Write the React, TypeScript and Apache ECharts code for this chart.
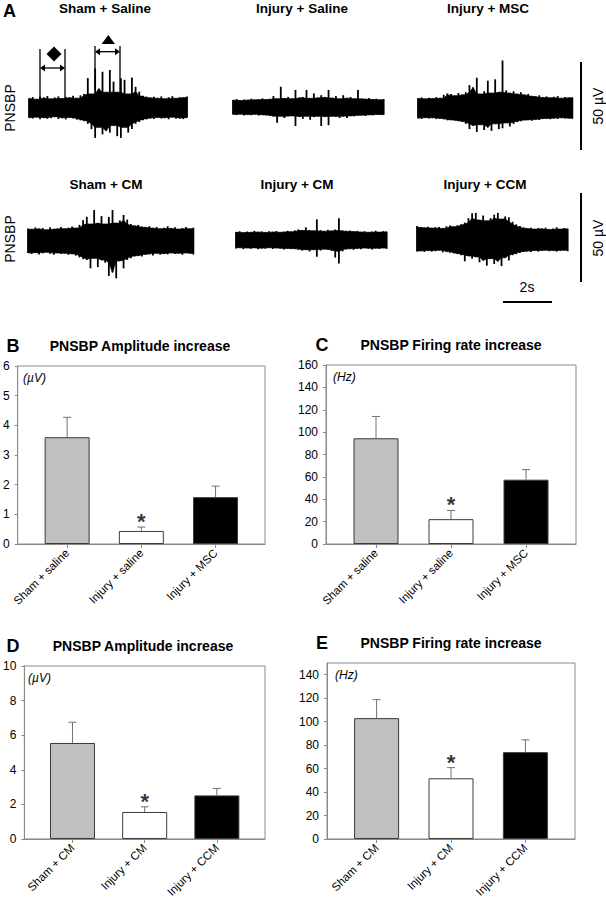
import React, { useEffect, useRef } from 'react';
import * as echarts from 'echarts';

const FONT = '"Liberation Sans", Arial, sans-serif';

// ---------- Panel A: recording traces (envelopes in µV, one value every 0.15 s) ----------
const traceStep = 0.15;
const traceTitles = ['Sham + Saline', 'Injury + Saline', 'Injury + MSC', 'Sham + CM', 'Injury + CM', 'Injury + CCM'];

const shamSalineUpper = [5.5, 6.2, 5.0, 6.5, 5.8, 6.8, 5.2, 6.0, 6.6, 5.4, 6.3, 5.9, 6.9, 5.6, 7.2, 8.0,
  17, 8, 22.5, 11, 20.6, 9, 21.6, 15, 9, 16.9, 16, 8, 17.4, 12, 9.3, 7,
  6.5, 5.8, 6.4, 5.6, 6.6, 5.3, 6.1, 6.7, 5.5, 6.2, 5.9, 6.5];
const shamSalineLower = [5.6, 6.0, 5.2, 6.4, 5.5, 6.1, 5.8, 5.0, 6.3, 5.7, 6.5, 5.4, 6.0, 6.6, 7.0, 7.5,
  9, 12, 17, 11, 15, 13, 14, 10, 16, 17, 11, 14, 12, 9, 8, 7,
  6.5, 5.8, 6.2, 5.4, 6.0, 5.6, 6.4, 5.2, 6.1, 5.8, 6.3, 5.5];

const injurySalineUpper = [4.2, 4.8, 4.0, 4.6, 4.3, 5.0, 4.4, 4.7, 5.2, 4.5,
  5.0, 6.5, 5.0, 11.8, 5.2, 6.0, 5.0, 10.0, 5.5, 6.0,
  10.0, 5.2, 8.0, 5.5, 7.0, 5.8, 10.0, 5.4, 6.5, 5.0,
  7.0, 5.4, 6.0, 5.0, 10.0, 5.2, 4.8, 5.4, 4.6, 5.0, 4.4, 4.8];
const injurySalineLower = [4.0, 4.3, 3.8, 4.5, 4.1, 4.4, 3.9, 4.6, 4.2, 4.4,
  4.8, 5.2, 8.6, 5.0, 6.0, 5.0, 4.8, 10.5, 5.2, 6.5,
  5.0, 7.0, 5.5, 5.0, 10.5, 5.2, 10.0, 5.0, 5.4, 6.0,
  5.0, 6.0, 4.8, 5.0, 4.6, 4.4, 4.8, 4.2, 4.5, 4.0, 4.3, 4.1];

const injuryMscUpper = [5.5, 6.0, 5.2, 5.8, 5.4, 6.2, 5.6, 7.5, 8.3, 8.0,
  7.0, 8.5, 7.5, 9.0, 13.0, 11.7, 17.2, 8.0, 9.5, 15.5,
  8.5, 16.3, 9.0, 27.0, 10.0, 8.5, 9.5, 8.0, 9.0, 7.5,
  8.0, 7.0, 6.5, 7.2, 6.0, 6.6, 5.8, 6.4, 6.8, 5.6, 6.2, 5.8, 6.0];
const injuryMscLower = [5.8, 6.2, 5.5, 6.0, 5.6, 6.3, 5.9, 6.5, 7.0, 6.8,
  7.2, 7.5, 8.0, 9.0, 12.0, 10.0, 13.6, 9.5, 12.5, 11.0,
  13.0, 9.0, 12.0, 11.5, 8.5, 10.5, 9.0, 8.0, 7.5, 7.0,
  6.8, 7.2, 6.5, 6.8, 6.2, 6.0, 6.4, 5.8, 6.2, 5.6, 6.0, 5.8, 6.1];

const shamCmUpper = [7.0, 6.5, 7.5, 6.8, 7.2, 6.2, 7.6, 6.6, 7.0, 7.8,
  6.8, 7.4, 8.0, 7.2, 9.0, 11.7, 13.6, 9.5, 17.4, 10.0,
  14.0, 9.5, 13.5, 17.4, 10.0, 11.5, 14.6, 12.0, 9.5, 8.5,
  9.0, 8.0, 7.6, 8.2, 7.2, 7.8, 6.8, 7.4, 8.2, 7.0,
  7.6, 6.6, 7.2, 7.8, 6.8, 7.4];
const shamCmLower = [7.0, 7.5, 6.8, 7.8, 7.2, 6.6, 7.4, 8.0, 7.0, 7.6,
  7.2, 8.0, 7.5, 8.5, 9.5, 10.5, 11.0, 15.7, 10.0, 15.0,
  11.0, 12.5, 20.0, 18.0, 21.4, 11.5, 15.7, 11.0, 10.0, 9.0,
  8.5, 9.0, 8.0, 7.6, 8.4, 7.2, 8.0, 7.4, 7.8, 7.0,
  7.6, 7.2, 8.0, 7.0, 7.4, 7.8];

const injuryCmUpper = [4.5, 5.0, 4.2, 4.8, 4.4, 5.2, 4.6, 4.9, 4.3, 5.0,
  4.6, 5.1, 4.4, 4.8, 5.2, 4.7, 5.5, 6.0, 5.4, 7.2,
  5.6, 5.2, 11.7, 5.6, 5.0, 5.8, 5.2, 6.0, 12.3, 5.5,
  5.0, 5.4, 4.8, 5.2, 4.6, 5.0, 4.4, 4.9, 5.3, 4.5, 5.0, 4.7];
const injuryCmLower = [4.8, 4.4, 5.2, 4.6, 5.0, 4.5, 5.3, 4.7, 5.0, 4.4,
  5.1, 4.6, 5.0, 5.4, 4.8, 5.2, 5.0, 5.6, 6.0, 5.5,
  6.5, 5.5, 9.5, 6.0, 5.2, 5.6, 6.2, 10.0, 13.3, 6.5,
  5.4, 5.0, 5.6, 4.8, 5.2, 4.6, 5.0, 5.4, 4.7, 5.1, 4.6, 5.0];

const injuryCcmUpper = [7.5, 7.0, 6.6, 7.2, 6.4, 6.8, 7.0, 6.2, 7.4, 7.8,
  7.2, 8.0, 8.6, 9.5, 12.0, 14.8, 15.0, 11.0, 13.5, 10.5,
  12.0, 14.0, 15.0, 11.5, 13.0, 12.5, 10.0, 8.5, 7.5, 6.8,
  6.2, 6.6, 5.8, 6.4, 6.0, 6.6, 5.6, 6.2, 6.8, 5.8, 6.4, 6.0];
const injuryCcmLower = [7.0, 6.6, 7.2, 6.4, 7.0, 6.8, 6.2, 7.4, 7.0, 7.6,
  8.0, 8.4, 9.0, 12.5, 9.5, 11.0, 10.0, 13.0, 12.0, 15.0,
  11.0, 14.0, 12.5, 15.2, 10.5, 12.0, 9.0, 8.5, 7.8, 7.2,
  6.8, 7.2, 6.4, 7.0, 6.6, 6.2, 6.8, 6.4, 7.0, 6.6, 6.2, 6.8];

const traceUpper = [shamSalineUpper, injurySalineUpper, injuryMscUpper, shamCmUpper, injuryCmUpper, injuryCcmUpper];
const traceLower = [shamSalineLower, injurySalineLower, injuryMscLower, shamCmLower, injuryCmLower, injuryCcmLower];

// ---------- Panels B–E: bar charts ----------
const groupsSaline = ['Sham + saline', 'Injury + saline', 'Injury + MSC'];
const groupsCM = ['Sham + CM', 'Injury + CM', 'Injury + CCM'];

const ampSalineMean = [3.6, 0.44, 1.58];
const ampSalineSem = [0.67, 0.13, 0.37];
const rateSalineMean = [94.5, 22.2, 57.5];
const rateSalineSem = [19.5, 7.8, 9.0];
const ampCmMean = [5.55, 1.56, 2.52];
const ampCmSem = [1.2, 0.3, 0.4];
const rateCmMean = [103, 51.7, 74];
const rateCmSem = [15.8, 9.1, 10.5];
const significantGroup = [2, 2, 2, 2]; // "*" over Injury group (1-based position)

const ampTicksSaline = [0, 1, 2, 3, 4, 5, 6];
const rateTicksSaline = [0, 20, 40, 60, 80, 100, 120, 140, 160];
const ampTicksCm = [0, 2, 4, 6, 8, 10];
const rateTicksCm = [0, 20, 40, 60, 80, 100, 120, 140];

const barColors = ['#c0c0c0', '#ffffff', '#000000'];

// ---------- layout (pixels) ----------
const PX_PER_S = 24.5;
const PX_PER_UV = 1.76;
const traceLayout = [
  { left: 29, cy: 108, tx: 105, ty: 8 },
  { left: 233, cy: 107.5, tx: 302, ty: 8 },
  { left: 418, cy: 108, tx: 488, ty: 8 },
  { left: 28, cy: 240.7, tx: 106, ty: 184 },
  { left: 236, cy: 240, tx: 297, ty: 184 },
  { left: 417, cy: 239.3, tx: 485, ty: 184 },
];

const panels = [
  { letter: 'B', title: 'PNSBP Amplitude increase', unit: '(µV)', names: groupsSaline, mean: ampSalineMean, sem: ampSalineSem, ticks: ampTicksSaline, max: 6,
    left: 15, top: 366, width: 250, height: 178, titleX: 140, letterX: 13, unitX: 23 },
  { letter: 'C', title: 'PNSBP Firing rate increase', unit: '(Hz)', names: groupsSaline, mean: rateSalineMean, sem: rateSalineSem, ticks: rateTicksSaline, max: 160,
    left: 326, top: 365, width: 250, height: 179, titleX: 451, letterX: 322, unitX: 333 },
  { letter: 'D', title: 'PNSBP Amplitude increase', unit: '(µV)', names: groupsCM, mean: ampCmMean, sem: ampCmSem, ticks: ampTicksCm, max: 10,
    left: 20, top: 666, width: 245, height: 176, titleX: 143, letterX: 13, unitX: 28 },
  { letter: 'E', title: 'PNSBP Firing rate increase', unit: '(Hz)', names: groupsCM, mean: rateCmMean, sem: rateCmSem, ticks: rateTicksCm, max: 150,
    left: 327, top: 663, width: 248, height: 177, titleX: 451, letterX: 322, unitX: 335 },
];

function text(t: string, x: number, y: number, font: string, rot = 0, align = 'center') {
  return {
    type: 'text', x, y, rotation: rot, z: 100,
    style: { text: t, font, fill: '#000', align, textAlign: align, verticalAlign: 'middle', textVerticalAlign: 'middle' },
  };
}
function seg(x1: number, y1: number, x2: number, y2: number, w = 1.3, color = '#000') {
  return { type: 'line', z: 100, shape: { x1, y1, x2, y2 }, style: { stroke: color, lineWidth: w } };
}
function poly(points: number[][]) {
  return { type: 'polygon', z: 100, shape: { points }, style: { fill: '#000' } };
}
function doubleArrow(x1: number, x2: number, y: number) {
  return [
    seg(x1 + 2, y, x2 - 2, y, 1.3),
    poly([[x1, y], [x1 + 5, y - 3.5], [x1 + 5, y + 3.5]]),
    poly([[x2, y], [x2 - 5, y - 3.5], [x2 - 5, y + 3.5]]),
  ];
}
// solid body of the band: local minimum of each envelope, so single spikes stay thin
const localMin = (arr: number[]) => arr.map((v, k) => Math.min(v, arr[k - 1] ?? v, arr[k + 1] ?? v));

function buildOption() {
  const grid: any[] = [];
  const xAxis: any[] = [];
  const yAxis: any[] = [];
  const series: any[] = [];
  const graphic: any[] = [];

  // traces
  traceUpper.forEach((up, i) => {
    const lo = traceLower[i];
    const L = traceLayout[i];
    const n = up.length;
    const dur = (n - 1) * traceStep;
    const halfUV = 50 / PX_PER_UV;
    grid.push({ left: L.left, top: L.cy - 50, width: dur * PX_PER_S, height: 100, show: false });
    xAxis.push({ gridIndex: grid.length - 1, type: 'value', min: 0, max: dur, show: false });
    yAxis.push({ gridIndex: grid.length - 1, type: 'value', min: -halfUV, max: halfUV, show: false });
    const gi = grid.length - 1;
    const common = {
      type: 'line', xAxisIndex: gi, yAxisIndex: gi, symbol: 'none', silent: true,
      lineStyle: { color: '#000', width: 0.7 }, areaStyle: { color: '#000', opacity: 1 },
    };
    series.push({ ...common, data: localMin(up).map((v, k) => [k * traceStep, v]) });
    series.push({ ...common, data: localMin(lo).map((v, k) => [k * traceStep, -v]) });
    series.push({
      type: 'line', xAxisIndex: gi, yAxisIndex: gi, symbol: 'none', silent: true,
      lineStyle: { color: '#000', width: 4 }, data: [[0, 0], [dur, 0]],
    });
    // each sample as a thin vertical stroke from its lower to upper excursion
    series.push({
      type: 'custom', xAxisIndex: gi, yAxisIndex: gi, silent: true,
      data: up.map((v, k) => [k * traceStep, v, -lo[k]]),
      encode: { x: 0, y: [1, 2] },
      renderItem: (_p: any, api: any) => {
        const a = api.coord([api.value(0), api.value(1)]);
        const b = api.coord([api.value(0), api.value(2)]);
        return { type: 'rect', shape: { x: a[0] - 0.9, y: a[1], width: 1.8, height: b[1] - a[1] }, style: { fill: '#000' } };
      },
    });
    graphic.push(text(traceTitles[i], L.tx, L.ty, `bold 13.5px ${FONT}`));
  });

  // panel A decorations
  graphic.push(text('A', 9.5, 11, `bold 18px ${FONT}`));
  graphic.push(text('PNSBP', 10, 108, `14px ${FONT}`, Math.PI / 2));
  graphic.push(text('PNSBP', 10, 239, `14px ${FONT}`, Math.PI / 2));
  graphic.push(seg(581, 62, 581, 150, 2));
  graphic.push(seg(581, 193, 581, 282, 2));
  graphic.push(text('50 µV', 598, 106, `14px ${FONT}`, Math.PI / 2));
  graphic.push(text('50 µV', 598, 238, `14px ${FONT}`, Math.PI / 2));
  graphic.push(seg(503, 302, 552, 302, 2));
  graphic.push(text('2s', 527, 287, `14px ${FONT}`));
  // annotation: diamond interval
  graphic.push(seg(40, 49, 40, 99, 1.3));
  graphic.push(seg(65, 49, 65, 99, 1.3));
  graphic.push(...doubleArrow(40, 65, 68));
  graphic.push(poly([[54, 46.5], [61.5, 54], [54, 61.5], [46.5, 54]]));
  // annotation: triangle interval
  graphic.push(seg(95, 46, 95, 90, 1.3));
  graphic.push(seg(120, 46, 120, 92, 1.3));
  graphic.push(...doubleArrow(95, 120, 51.7));
  graphic.push(poly([[108.3, 35], [115, 44], [101.6, 44]]));

  // bar panels
  panels.forEach((P, pi) => {
    grid.push({ left: P.left, top: P.top, width: P.width, height: P.height, show: true, borderColor: '#8a8a8a', borderWidth: 1, backgroundColor: 'transparent' });
    const gi = grid.length - 1;
    const positions = P.names.map((_, k) => k + 1);
    xAxis.push({
      gridIndex: gi, type: 'value', min: 1 / 3, max: 11 / 3,
      axisLine: { show: true, lineStyle: { color: '#8a8a8a', width: 1 } },
      axisTick: { show: true, customValues: positions, length: 4, lineStyle: { color: '#8a8a8a' } },
      axisLabel: {
        show: true, customValues: positions, rotate: 45, margin: 7, fontSize: 11.5, fontFamily: FONT, color: '#000',
        formatter: (v: number) => P.names[Math.round(v) - 1] ?? '',
      },
      splitLine: { show: false },
    });
    yAxis.push({
      gridIndex: gi, type: 'value', min: 0, max: P.max,
      axisLine: { show: true, lineStyle: { color: '#8a8a8a', width: 1 } },
      axisTick: { show: true, customValues: P.ticks, length: 3, lineStyle: { color: '#8a8a8a' } },
      axisLabel: { show: true, customValues: P.ticks, margin: 8, fontSize: 12, fontFamily: FONT, color: '#000' },
      splitLine: { show: false },
    });
    series.push({
      type: 'bar', xAxisIndex: gi, yAxisIndex: gi, barWidth: 45, silent: true,
      data: P.mean.map((m, k) => ({
        value: [k + 1, m],
        itemStyle: { color: barColors[k], borderColor: '#3a3a3a', borderWidth: 1 },
      })),
    });
    series.push({
      type: 'custom', xAxisIndex: gi, yAxisIndex: gi, silent: true, z: 5,
      data: P.mean.map((m, k) => [k + 1, m, m + P.sem[k]]),
      encode: { x: 0, y: [1, 2] },
      renderItem: (_params: any, api: any) => {
        const x = api.value(0);
        const a = api.coord([x, api.value(1)]);
        const b = api.coord([x, api.value(2)]);
        return {
          type: 'group',
          children: [
            { type: 'line', shape: { x1: a[0], y1: a[1], x2: b[0], y2: b[1] }, style: { stroke: '#707070', lineWidth: 1 } },
            { type: 'line', shape: { x1: b[0] - 4, y1: b[1], x2: b[0] + 4, y2: b[1] }, style: { stroke: '#707070', lineWidth: 1 } },
          ],
        };
      },
    });
    const sg = significantGroup[pi] - 1;
    series.push({
      type: 'scatter', xAxisIndex: gi, yAxisIndex: gi, silent: true, symbolSize: 1,
      itemStyle: { color: 'rgba(0,0,0,0)' },
      data: [[sg + 1, P.mean[sg] + P.sem[sg] + P.max * 0.06]],
      label: { show: true, position: 'inside', formatter: '*', fontSize: 22, fontWeight: 'bold', fontFamily: FONT, color: '#000', offset: [0, 5] },
    });
    graphic.push(text(P.letter, P.letterX, P.top - 20, `bold 18px ${FONT}`, 0, 'center'));
    graphic.push(text(P.title, P.titleX, P.top - 20, `bold 14px ${FONT}`));
    graphic.push(text(P.unit, P.unitX, P.top + 12, `italic 12px ${FONT}`, 0, 'left'));
  });

  return { animation: false, backgroundColor: '#fff', grid, xAxis, yAxis, series, graphic };
}

export default function App() {
  const ref = useRef<HTMLDivElement>(null);
  useEffect(() => {
    document.body.style.margin = '0';
    if (!ref.current) return;
    const chart = echarts.init(ref.current, undefined, { renderer: 'svg' });
    chart.setOption(buildOption() as any);
    return () => chart.dispose();
  }, []);
  return <div ref={ref} style={{ width: 606, height: 900 }} />;
}
